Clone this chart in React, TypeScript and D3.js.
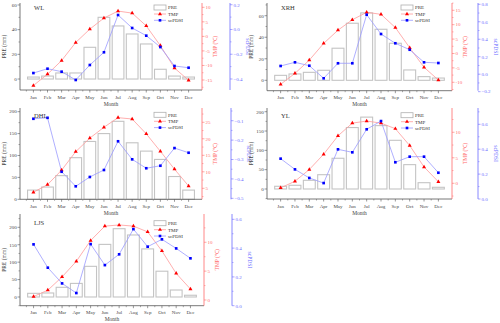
import React from "react";
import * as d3 from "d3";

const months = ["Jan", "Feb", "Mar", "Apr", "May", "Jun", "Jul", "Aug", "Sep", "Oct", "Nov", "Dec"];

// WL
const wlPre = [1.6, 2.4, 4.9, 4.9, 25.7, 50, 43, 36.5, 28.4, 7.9, 2.4, 1.6];
const wlTmp = [-16.9, -13, -8.3, -2.1, 2.5, 6.3, 8.7, 8.0, 3.6, -3.2, -10.9, -15.1];
const wlPdsi = [-0.352, -0.317, -0.341, -0.408, -0.287, -0.184, 0.117, 0.012, -0.05, -0.142, -0.295, -0.309];

// XRH
const xrhPre = [4.6, 5.9, 7.4, 9.3, 29.8, 53, 62.6, 47.4, 34.4, 9.6, 3.4, 2.1];
const xrhTmp = [-10.7, -6.9, -2.3, 3.5, 8.1, 11.7, 14.3, 13.6, 9.0, 2.0, -4.8, -9.2];
const xrhPdsi = [0.094, 0.136, 0.097, -0.047, 0.125, 0.125, 0.681, 0.46, 0.354, 0.28, 0.136, 0.128];

// DHL
const dhlPre = [21, 28, 54, 95, 132, 150, 178, 129, 110, 91, 52, 21];
const dhlTmp = [3.8, 6.1, 10.5, 16.1, 20.2, 23.5, 26.4, 26.0, 21.5, 16.2, 10.8, 5.7];
const dhlPdsi = [-0.09, -0.085, -0.363, -0.438, -0.39, -0.354, -0.206, -0.299, -0.345, -0.332, -0.241, -0.265];

// YL
const ylPre = [7, 9.6, 22.5, 37, 79.5, 159, 186, 164, 126, 63, 16.3, 4.4];
const ylTmp = [-0.9, 0.4, 2.7, 5.7, 9.3, 11.8, 12.2, 11.8, 10.7, 7.4, 3.2, 0.3];
const ylPdsi = [0.324, 0.238, 0.169, 0.128, 0.399, 0.375, 0.56, 0.626, 0.295, 0.34, 0.34, 0.211];

// LJS
const ljsPre = [10.5, 11.5, 27.8, 39, 88, 151, 196, 178, 138, 74, 20, 5];
const ljsTmp = [0.6, 1.7, 4.0, 6.7, 10.3, 12.8, 13.0, 12.8, 11.8, 8.5, 4.6, 1.9];
const ljsPdsi = [0.426, 0.264, 0.155, 0.088, 0.428, 0.282, 0.357, 0.532, 0.41, 0.461, 0.398, 0.329];

const FONT = "Liberation Serif, Times New Roman, serif";
const RED = "#ff0000";
const RED_LINE = "#ff9a9a";
const RED_AXIS = "#ff6b6b";
const BLUE = "#0000ff";
const BLUE_LINE = "#9a9aff";
const BLUE_AXIS = "#6b6bff";
const GREY = "#555";

const panels = [
  {
    name: "WL", pre: wlPre, tmp: wlTmp, pdsi: wlPdsi,
    x0: 20, x1: 202, x2: 230, yTop: 3, yBot: 90,
    preDom: [-8.9, 61.6], tmpDom: [-18.44, 11.48], pdsiDom: [-0.489, 0.214],
    preTicks: [0, 20, 40, 60], tmpTicks: [-15, -10, -5, 0, 5, 10], pdsiTicks: [-0.4, -0.2, 0, 0.2],
    legY: 5, labY: 9.5,
  },
  {
    name: "XRH", pre: xrhPre, tmp: xrhTmp, pdsi: xrhPdsi,
    x0: 267, x1: 452, x2: 478, yTop: 3, yBot: 90.7,
    preDom: [-9.66, 71.8], tmpDom: [-12.92, 17.53], pdsiDom: [-0.189, 0.815],
    preTicks: [0, 20, 40, 60], tmpTicks: [-10, -5, 0, 5, 10, 15], pdsiTicks: [-0.2, 0, 0.2, 0.4, 0.6, 0.8],
    legY: 5, labY: 9.5,
  },
  {
    name: "DHL", pre: dhlPre, tmp: dhlTmp, pdsi: dhlPdsi,
    x0: 20, x1: 202, x2: 231, yTop: 108, yBot: 199.3,
    preDom: [0, 208.4], tmpDom: [1.67, 29.33], pdsiDom: [-0.505, -0.0345],
    preTicks: [0, 50, 100, 150, 200], tmpTicks: [5, 10, 15, 20, 25], pdsiTicks: [-0.5, -0.4, -0.3, -0.2, -0.1],
    legY: 112.3, labY: 118,
  },
  {
    name: "YL", pre: ylPre, tmp: ylTmp, pdsi: ylPdsi,
    x0: 267, x1: 452, x2: 478, yTop: 108, yBot: 199,
    preDom: [-25.9, 209.6], tmpDom: [-3.08, 14.76], pdsiDom: [0, 0.731],
    preTicks: [0, 50, 100, 150, 200], tmpTicks: [0, 5, 10], pdsiTicks: [0, 0.2, 0.4, 0.6],
    legY: 112.7, labY: 118,
  },
  {
    name: "LJS", pre: ljsPre, tmp: ljsTmp, pdsi: ljsPdsi,
    x0: 20, x1: 204, x2: 232, yTop: 214, yBot: 305.7,
    preDom: [-25, 238.2], tmpDom: [-0.99, 14.9], pdsiDom: [0, 0.637],
    preTicks: [0, 50, 100, 150, 200], tmpTicks: [0, 5, 10], pdsiTicks: [0, 0.2, 0.4, 0.6],
    legY: 220.7, labY: 225,
  },
];

function minors(ticks: number[], dom: number[]) {
  const step = ticks[1] - ticks[0];
  const out: number[] = [];
  const lo = Math.min(dom[0], dom[1]);
  const hi = Math.max(dom[0], dom[1]);
  for (let t = ticks[0] - step / 2; t <= hi + 1e-9; t += step) {
    if (t >= lo - 1e-9) out.push(t);
  }
  return out;
}

function Panel({ p }: { p: any }) {
  const x = d3.scalePoint().domain(months).range([p.x0, p.x1]).padding(0.95);
  const step = x.step();
  const barW = step * 0.83;
  const yPre = d3.scaleLinear().domain(p.preDom).range([p.yBot, p.yTop]);
  const yTmp = d3.scaleLinear().domain(p.tmpDom).range([p.yBot, p.yTop]);
  const yPdsi = d3.scaleLinear().domain(p.pdsiDom).range([p.yBot, p.yTop]);

  const tmpLine = d3.line<number>().x((d, i) => x(months[i])!).y(d => yTmp(d));
  const pdsiLine = d3.line<number>().x((d, i) => x(months[i])!).y(d => yPdsi(d));
  const tri = d3.symbol().type(d3.symbolTriangle).size(7)();
  const sq = d3.symbol().type(d3.symbolSquare).size(7)();

  const fmt1 = d3.format(".1f");
  const xMinor = months.slice(0, 11).map((m, i) => x(m)! + step / 2);
  xMinor.unshift(x(months[0])! - step / 2);
  const midY = (p.yTop + p.yBot) / 2;
  const lx = p.x0 + 134;
  const fs = 5;

  return (
    <g>
      {/* bars */}
      {p.pre.map((v: number, i: number) => (
        <rect key={"b" + i} x={x(months[i])! - barW / 2} y={yPre(v)} width={barW}
          height={yPre(0) - yPre(v)} fill="#fff" stroke="#c4c4c4" strokeWidth={1.1} />
      ))}

      {/* left axis */}
      <line x1={p.x0} x2={p.x0} y1={p.yTop} y2={p.yBot} stroke={GREY} strokeWidth={0.8} />
      {p.preTicks.map((t: number) => (
        <g key={"lt" + t}>
          <line x1={p.x0 - 2.5} x2={p.x0} y1={yPre(t)} y2={yPre(t)} stroke={GREY} strokeWidth={0.6} />
          <text x={p.x0 - 3.2} y={yPre(t) + 1.8} fontSize={fs} textAnchor="end" fill="#444">{t}</text>
        </g>
      ))}
      {minors(p.preTicks, p.preDom).map(t => (
        <line key={"lm" + t} x1={p.x0 - 1.5} x2={p.x0} y1={yPre(t)} y2={yPre(t)} stroke={GREY} strokeWidth={0.5} />
      ))}
      <text transform={`translate(${p.x0 - 14},${midY}) rotate(-90)`} fontSize={5.5} textAnchor="middle" fill="#444">PRE (mm)</text>

      {/* bottom axis */}
      <line x1={p.x0} x2={p.x1} y1={p.yBot} y2={p.yBot} stroke={GREY} strokeWidth={0.8} />
      {months.map(m => (
        <g key={"xt" + m}>
          <line x1={x(m)} x2={x(m)} y1={p.yBot} y2={p.yBot + 2.5} stroke={GREY} strokeWidth={0.6} />
          <text x={x(m)} y={p.yBot + 8.5} fontSize={fs} textAnchor="middle" fill="#444">{m}</text>
        </g>
      ))}
      {xMinor.map((v, i) => (
        <line key={"xm" + i} x1={v} x2={v} y1={p.yBot} y2={p.yBot + 1.5} stroke={GREY} strokeWidth={0.5} />
      ))}
      <text x={(p.x0 + p.x1) / 2} y={p.yBot + 15.5} fontSize={5.5} textAnchor="middle" fill="#444">Month</text>

      {/* TMP axis */}
      <line x1={p.x1} x2={p.x1} y1={p.yTop} y2={p.yBot} stroke={RED_AXIS} strokeWidth={0.8} />
      {p.tmpTicks.map((t: number) => (
        <g key={"rt" + t}>
          <line x1={p.x1} x2={p.x1 + 2.5} y1={yTmp(t)} y2={yTmp(t)} stroke={RED_AXIS} strokeWidth={0.6} />
          <text x={p.x1 + 3.5} y={yTmp(t) + 1.8} fontSize={fs} fill={RED_AXIS}>{t}</text>
        </g>
      ))}
      {minors(p.tmpTicks, p.tmpDom).map(t => (
        <line key={"rm" + t} x1={p.x1} x2={p.x1 + 1.5} y1={yTmp(t)} y2={yTmp(t)} stroke={RED_AXIS} strokeWidth={0.5} />
      ))}
      <text transform={`translate(${p.x1 + 15},${midY}) rotate(-90)`} fontSize={5.5} textAnchor="middle" fill={RED_AXIS}>TMP (℃)</text>

      {/* scPDSI axis */}
      <line x1={p.x2} x2={p.x2} y1={p.yTop} y2={p.yBot} stroke={BLUE_AXIS} strokeWidth={0.8} />
      {p.pdsiTicks.map((t: number) => (
        <g key={"bt" + t}>
          <line x1={p.x2} x2={p.x2 + 2.5} y1={yPdsi(t)} y2={yPdsi(t)} stroke={BLUE_AXIS} strokeWidth={0.6} />
          <text x={p.x2 + 3.5} y={yPdsi(t) + 1.8} fontSize={fs} fill={BLUE_AXIS}>{fmt1(t)}</text>
        </g>
      ))}
      {minors(p.pdsiTicks, p.pdsiDom).map(t => (
        <line key={"bm" + t} x1={p.x2} x2={p.x2 + 1.5} y1={yPdsi(t)} y2={yPdsi(t)} stroke={BLUE_AXIS} strokeWidth={0.5} />
      ))}
      <text transform={`translate(${p.x2 + 16},${midY}) rotate(90)`} fontSize={5.5} textAnchor="middle" fill={BLUE_AXIS}>scPDSI</text>

      {/* lines */}
      <path d={tmpLine(p.tmp)!} fill="none" stroke={RED_LINE} strokeWidth={0.8} />
      <path d={pdsiLine(p.pdsi)!} fill="none" stroke={BLUE_LINE} strokeWidth={0.8} />
      {p.tmp.map((v: number, i: number) => (
        <path key={"t" + i} d={tri!} transform={`translate(${x(months[i])},${yTmp(v)})`} fill={RED} />
      ))}
      {p.pdsi.map((v: number, i: number) => (
        <path key={"s" + i} d={sq!} transform={`translate(${x(months[i])},${yPdsi(v)})`} fill={BLUE} />
      ))}

      {/* panel label */}
      <text x={p.x0 + 14} y={p.labY} fontSize={6.5} fill="#333">{p.name}</text>

      {/* legend */}
      <rect x={lx} y={p.legY} width={12} height={5} fill="#fff" stroke="#b0b0b0" strokeWidth={0.8} />
      <text x={lx + 14} y={p.legY + 4.3} fontSize={fs} fill="#333">PRE</text>
      <line x1={lx} x2={lx + 12} y1={p.legY + 9} y2={p.legY + 9} stroke={RED_LINE} strokeWidth={0.8} />
      <path d={tri!} transform={`translate(${lx + 6},${p.legY + 9})`} fill={RED} />
      <text x={lx + 14} y={p.legY + 10.8} fontSize={fs} fill="#333">TMP</text>
      <line x1={lx} x2={lx + 12} y1={p.legY + 15.3} y2={p.legY + 15.3} stroke={BLUE_LINE} strokeWidth={0.8} />
      <path d={sq!} transform={`translate(${lx + 6},${p.legY + 15.3})`} fill={BLUE} />
      <text x={lx + 14} y={p.legY + 17.1} fontSize={fs} fill="#333">scPDSI</text>
    </g>
  );
}

export default function App() {
  return (
    <svg width={500} height={323} style={{ position: "absolute", left: 0, top: 0, fontFamily: FONT }}>
      <rect width={500} height={323} fill="#fff" />
      {panels.map(p => (
        <Panel key={p.name} p={p} />
      ))}
    </svg>
  );
}
